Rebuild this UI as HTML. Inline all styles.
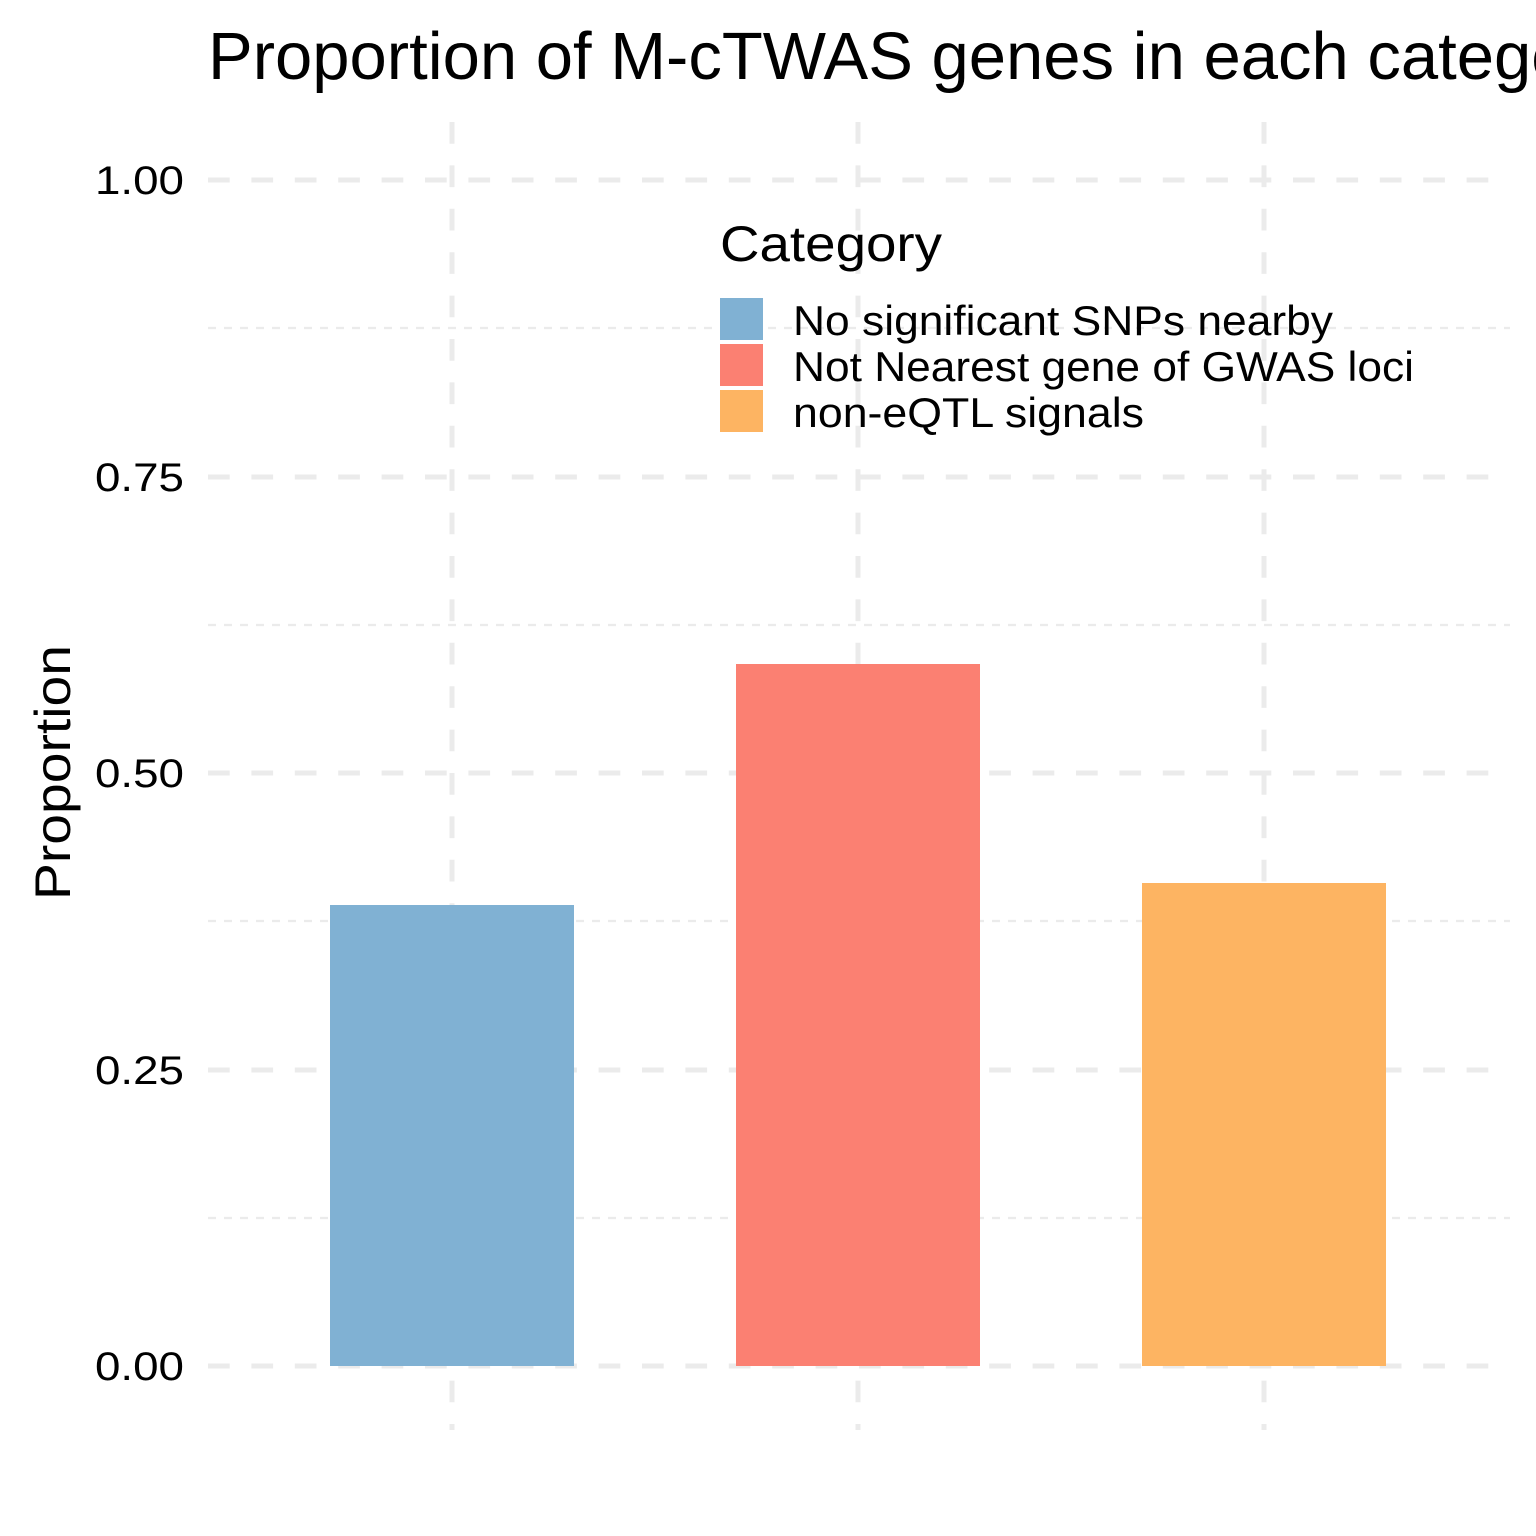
<!DOCTYPE html>
<html><head><meta charset="utf-8"><style>html,body{margin:0;padding:0;background:#fff}svg{display:block}</style></head>
<body>
<svg width="1536" height="1536" viewBox="0 0 1536 1536" xmlns="http://www.w3.org/2000/svg" font-family="Liberation Sans, Arial, sans-serif">
<rect width="1536" height="1536" fill="#fff"/>
<g stroke="#ebebeb" stroke-width="2.2" stroke-dasharray="8,8">
<line x1="208" x2="1510" y1="1218" y2="1218"/>
<line x1="208" x2="1510" y1="921" y2="921"/>
<line x1="208" x2="1510" y1="625" y2="625"/>
<line x1="208" x2="1510" y1="328" y2="328"/>
</g>
<g stroke="#ebebeb" stroke-width="5" stroke-dasharray="21.7,21.7">
<line x1="208" x2="1492" y1="1366" y2="1366"/>
<line x1="208" x2="1492" y1="1070" y2="1070"/>
<line x1="208" x2="1492" y1="773" y2="773"/>
<line x1="208" x2="1492" y1="477" y2="477"/>
<line x1="208" x2="1492" y1="180" y2="180"/>
<line x1="452" x2="452" y1="122" y2="1430"/>
<line x1="858" x2="858" y1="122" y2="1430"/>
<line x1="1264" x2="1264" y1="122" y2="1430"/>
</g>
<rect x="330" y="905" width="244" height="461" fill="#80b1d3"/>
<rect x="736" y="664" width="244" height="702" fill="#fb8072"/>
<rect x="1142" y="883" width="244" height="483" fill="#fdb462"/>
<g font-size="40" fill="#000" lengthAdjust="spacingAndGlyphs">
<text x="95" y="1380" textLength="89" lengthAdjust="spacingAndGlyphs">0.00</text>
<text x="95" y="1084" textLength="89" lengthAdjust="spacingAndGlyphs">0.25</text>
<text x="95" y="787" textLength="89" lengthAdjust="spacingAndGlyphs">0.50</text>
<text x="95" y="491" textLength="89" lengthAdjust="spacingAndGlyphs">0.75</text>
<text x="95" y="194" textLength="89" lengthAdjust="spacingAndGlyphs">1.00</text>
</g>
<text transform="translate(70,900) rotate(-90)" font-size="50" textLength="255" lengthAdjust="spacingAndGlyphs">Proportion</text>
<text x="208" y="79" font-size="67">Proportion of M-cTWAS genes in each category</text>
<text x="720" y="261" font-size="50" textLength="222" lengthAdjust="spacingAndGlyphs">Category</text>
<rect x="720" y="298" width="43" height="42" fill="#80b1d3"/>
<rect x="720" y="344" width="43" height="42" fill="#fb8072"/>
<rect x="720" y="390" width="43" height="42" fill="#fdb462"/>
<g font-size="42">
<text x="793" y="335" textLength="540" lengthAdjust="spacingAndGlyphs">No significant SNPs nearby</text>
<text x="793" y="381" textLength="621" lengthAdjust="spacingAndGlyphs">Not Nearest gene of GWAS loci</text>
<text x="793" y="427" textLength="351" lengthAdjust="spacingAndGlyphs">non-eQTL signals</text>
</g>
</svg>
</body></html>
